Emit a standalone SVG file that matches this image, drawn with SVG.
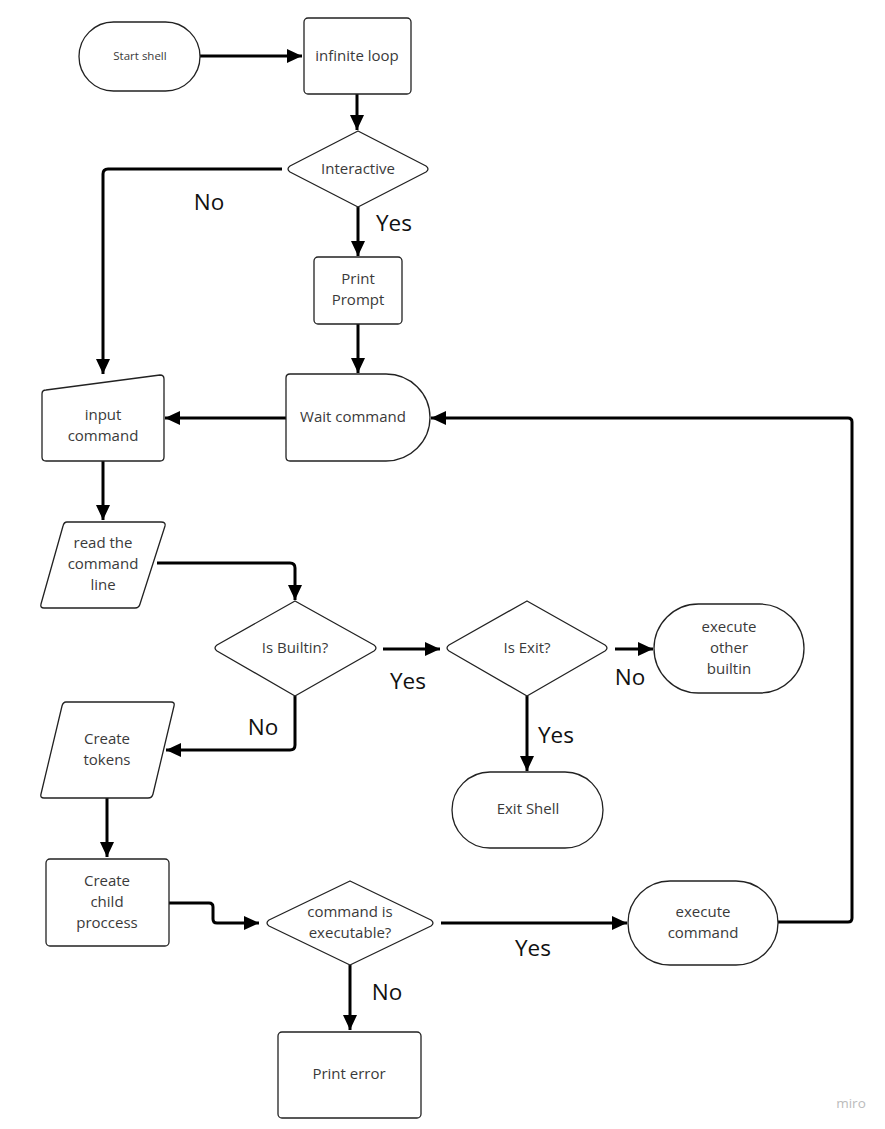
<svg xmlns="http://www.w3.org/2000/svg" width="885" height="1129" viewBox="0 0 885 1129">
<style>
.n{fill:#fff;stroke:#222;stroke-width:1.3;stroke-linejoin:round}
.t{font-family:"Open Sans","Liberation Sans",sans-serif;font-size:15px;fill:#3a3a3a;text-anchor:middle}
.s{font-size:11.5px}
.c{fill:none;stroke:#000;stroke-width:3;stroke-linejoin:round}
.l{font-family:"Open Sans","Liberation Sans",sans-serif;font-size:22.5px;fill:#111;text-anchor:middle}
</style>
<defs>
<marker id="a" markerUnits="userSpaceOnUse" markerWidth="16" markerHeight="14" refX="15" refY="7" orient="auto">
<path d="M0,0 L15,7 L0,14 z" fill="#000"/>
</marker>
</defs>
<rect width="885" height="1129" fill="#fff"/>
<g id="connectors">
<path class="c" d="M200,56 H302" marker-end="url(#a)"/>
<path class="c" d="M357,94 V130" marker-end="url(#a)"/>
<path class="c" d="M282,169 H108 Q103,169 103,174 V374" marker-end="url(#a)"/>
<path class="c" d="M358,207 V256" marker-end="url(#a)"/>
<path class="c" d="M358,324 V373" marker-end="url(#a)"/>
<path class="c" d="M286,418 H165" marker-end="url(#a)"/>
<path class="c" d="M103,461 V520" marker-end="url(#a)"/>
<path class="c" d="M157,563 H290 Q295,563 295,568 V600" marker-end="url(#a)"/>
<path class="c" d="M383,649 H440" marker-end="url(#a)"/>
<path class="c" d="M615,649 H653" marker-end="url(#a)"/>
<path class="c" d="M527,696 V771" marker-end="url(#a)"/>
<path class="c" d="M295,696 V745 Q295,750 290,750 H166" marker-end="url(#a)"/>
<path class="c" d="M107,798 V857" marker-end="url(#a)"/>
<path class="c" d="M169,903 H209 Q213,903 213,907 V919 Q213,923 217,923 H259" marker-end="url(#a)"/>
<path class="c" d="M441,923 H627" marker-end="url(#a)"/>
<path class="c" d="M350,965 V1030" marker-end="url(#a)"/>
<path class="c" d="M778,922 H848 Q852,922 852,918 V422 Q852,418 848,418 H431" marker-end="url(#a)"/>
<text class="l" x="209" y="210">No</text>
<text class="l" x="394" y="231">Yes</text>
<text class="l" x="408" y="689">Yes</text>
<text class="l" x="630" y="685">No</text>
<text class="l" x="556" y="743">Yes</text>
<text class="l" x="263" y="735">No</text>
<text class="l" x="533" y="956">Yes</text>
<text class="l" x="387" y="1000">No</text>
</g>
<g id="start-shell">
<rect class="n" x="79" y="22" width="121" height="69" rx="34.5"/>
<text class="t s" x="140" y="60">Start shell</text>
</g>
<g id="infinite-loop">
<rect class="n" x="304" y="18" width="107" height="76" rx="4"/>
<text class="t" x="357" y="61">infinite loop</text>
</g>
<g id="interactive">
<path class="n" d="M358,131 L426,166 Q430,169 426,172 L358,207 L290,172 Q286,169 290,166 Z"/>
<text class="t" x="358" y="174">Interactive</text>
</g>
<g id="print-prompt">
<rect class="n" x="314" y="257" width="88" height="67" rx="4"/>
<text class="t" x="358" y="284">Print</text>
<text class="t" x="358" y="305">Prompt</text>
</g>
<g id="wait-command">
<path class="n" d="M290,374 H386 A44,43.5 0 0 1 386,461 H290 Q286,461 286,457 V378 Q286,374 290,374 Z"/>
<text class="t" x="353" y="422">Wait command</text>
</g>
<g id="input-command">
<path class="n" d="M46,390 L160,375 Q164,375 164,379 V457 Q164,461 160,461 H46 Q42,461 42,457 V394 Q42,390 46,390 Z"/>
<text class="t" x="103" y="420">input</text>
<text class="t" x="103" y="441">command</text>
</g>
<g id="read-command-line">
<path class="n" d="M67,522 H161 Q166,522 165,526 L140,604 Q139,608 135,608 H44 Q40,608 41,604 L63,526 Q64,522 67,522 Z"/>
<text class="t" x="103" y="548">read the</text>
<text class="t" x="103" y="569">command</text>
<text class="t" x="103" y="590">line</text>
</g>
<g id="is-builtin">
<path class="n" d="M295,601 L374,645 Q378,648 374,651 L295,696 L217,651 Q213,648 217,645 Z"/>
<text class="t" x="295" y="653">Is Builtin?</text>
</g>
<g id="is-exit">
<path class="n" d="M527,601 L605,645 Q609,648 605,651 L527,696 L449,651 Q445,648 449,645 Z"/>
<text class="t" x="527" y="653">Is Exit?</text>
</g>
<g id="execute-other-builtin">
<rect class="n" x="654" y="604" width="150" height="89" rx="44.5"/>
<text class="t" x="729" y="632">execute</text>
<text class="t" x="729" y="653">other</text>
<text class="t" x="729" y="674">builtin</text>
</g>
<g id="exit-shell">
<rect class="n" x="452" y="772" width="151" height="76" rx="38"/>
<text class="t" x="528" y="814">Exit Shell</text>
</g>
<g id="create-tokens">
<path class="n" d="M66,702 H171 Q175,702 174,706 L153,794 Q152,798 148,798 H44 Q40,798 41,794 L62,706 Q63,702 66,702 Z"/>
<text class="t" x="107" y="744">Create</text>
<text class="t" x="107" y="765">tokens</text>
</g>
<g id="create-child-process">
<rect class="n" x="46" y="859" width="123" height="87" rx="4"/>
<text class="t" x="107" y="886">Create</text>
<text class="t" x="107" y="907">child</text>
<text class="t" x="107" y="928">proccess</text>
</g>
<g id="command-executable">
<path class="n" d="M350,881 L431,920 Q435,923 431,926 L350,965 L269,926 Q265,923 269,920 Z"/>
<text class="t" x="350" y="917">command is</text>
<text class="t" x="350" y="938">executable?</text>
</g>
<g id="execute-command">
<rect class="n" x="628" y="881" width="150" height="84" rx="42"/>
<text class="t" x="703" y="917">execute</text>
<text class="t" x="703" y="938">command</text>
</g>
<g id="print-error">
<rect class="n" x="278" y="1032" width="143" height="86" rx="4"/>
<text class="t" x="349" y="1079">Print error</text>
</g>
<text x="851" y="1108" font-family="'Open Sans','Liberation Sans',sans-serif" font-size="13.5" fill="#bbb" text-anchor="middle">miro</text>
</svg>
